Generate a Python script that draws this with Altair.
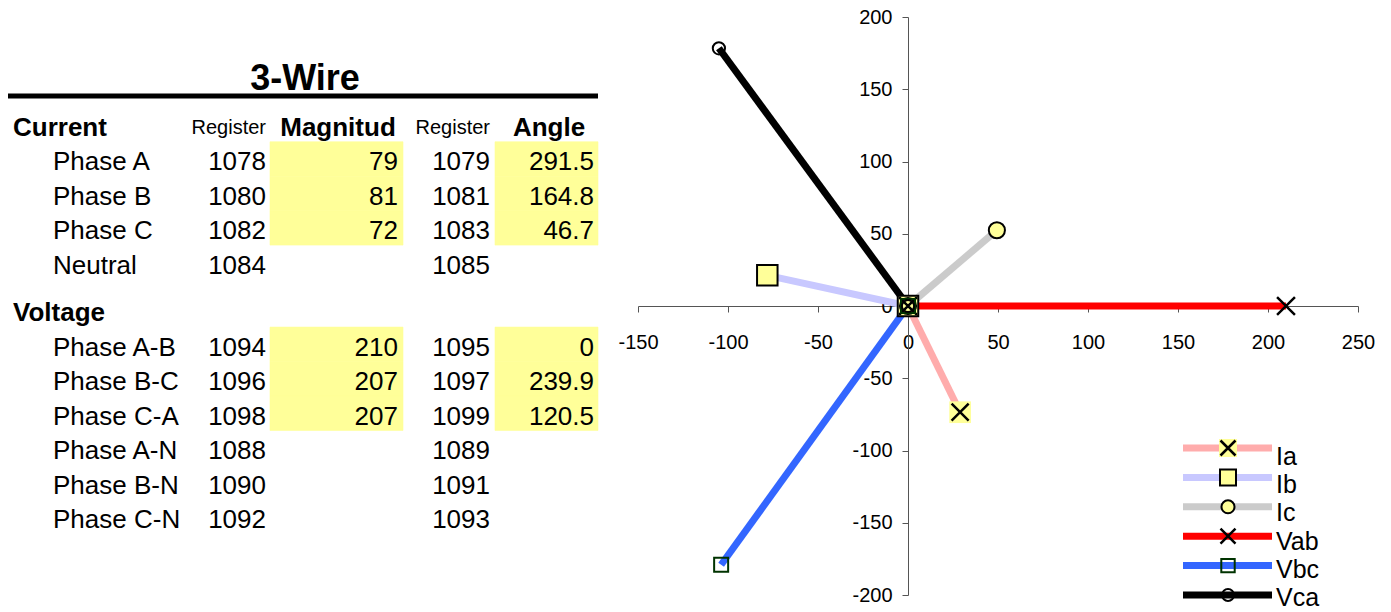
import altair as alt
import pandas as pd

FONT = "Liberation Sans, Arial, Helvetica, sans-serif"

# ---------------- table content ----------------
table_title = "3-Wire"
section_labels = ["Current", "Voltage"]
section_index = [0, 5]
row_labels = ["Phase A", "Phase B", "Phase C", "Neutral", "Phase A-B", "Phase B-C",
              "Phase C-A", "Phase A-N", "Phase B-N", "Phase C-N"]
row_index = [1, 2, 3, 4, 6, 7, 8, 9, 10, 11]
mag_registers = [1078, 1080, 1082, 1084, 1094, 1096, 1098, 1088, 1090, 1092]
angle_registers = [1079, 1081, 1083, 1085, 1095, 1097, 1099, 1089, 1091, 1093]
magnitudes = [79, 81, 72, None, 210, 207, 207, None, None, None]
angles = [291.5, 164.8, 46.7, None, 0, 239.9, 120.5, None, None, None]
column_headers = ["Register", "Magnitud", "Register", "Angle"]

# ---------------- phasor series ----------------
series_names = ["Ia", "Ib", "Ic", "Vab", "Vbc", "Vca"]
series_rows = ["Phase A", "Phase B", "Phase C", "Phase A-B", "Phase B-C", "Phase C-A"]
series_colors = ["#FFACAC", "#C8C8FF", "#CBCBCB", "#FF0000", "#3366FF", "#000000"]
series_widths = [7, 7, 7, 4.5, 4.5, 4.5]
x_ticks = [-150, -100, -50, 0, 50, 100, 150, 200, 250]
y_ticks = [-200, -150, -100, -50, 0, 50, 100, 150, 200]

XPATH = "M-1,-1L1,1M-1,1L1,-1"
# series, shape, plot size, legend size, fill, stroke, stroke width
marker_styles = [
    ("Ia", "square", 470, 324, "#FFFF99", "#FFFF99", 0),
    ("Ia", XPATH, 290, 225, "transparent", "black", 2.5),
    ("Ib", "square", 420, 256, "#FFFF99", "black", 2),
    ("Ic", "circle", 260, 170, "#FFFF99", "black", 2),
    ("Vab", XPATH, 320, 225, "transparent", "black", 2.5),
    ("Vbc", "square", 196, 180, "transparent", "#003300", 2),
    ("Vca", "circle", 150, 140, "transparent", "black", 2),
]

# ---------------- data frames ----------------
table_df = pd.DataFrame({
    "label": row_labels,
    "k": row_index,
    "reg1": [str(v) for v in mag_registers],
    "reg2": [str(v) for v in angle_registers],
    "magv": magnitudes,
    "magt": ["" if v is None else f"{v:g}" for v in magnitudes],
    "angt": ["" if v is None else f"{v:g}" for v in angles],
})
section_df = pd.DataFrame({"label": section_labels, "k": section_index})

rows = []
for name, rl in zip(series_names, series_rows):
    i = row_labels.index(rl)
    for t in (0, 1):
        rows.append({"series": name, "t": t, "mag": magnitudes[i], "ang": angles[i]})
phasor_df = pd.DataFrame(rows)
legend_df = pd.DataFrame({"series": series_names, "li": list(range(len(series_names)))})

# ---------------- scales ----------------
X_SCALE = alt.Scale(domain=[-150, 250], nice=False, zero=False)
Y_SCALE = alt.Scale(domain=[-200, 200], nice=False, zero=False)
ROW_SCALE = alt.Scale(domain=[0, 11.38], range=[111, 503], nice=False, zero=False)
LEG_SYM = alt.Scale(domain=[0, 5], range=[431, 578], nice=False, zero=False)
LEG_TXT = alt.Scale(domain=[0, 5], range=[440, 581], nice=False, zero=False)
COLOR = alt.Color("series:N", scale=alt.Scale(domain=series_names, range=series_colors), legend=None)
SW = alt.StrokeWidth("series:N", scale=alt.Scale(domain=series_names, range=series_widths), legend=None)

layers = []

# ---------------- table ----------------
tbase = alt.Chart(table_df).transform_calculate(
    pos="datum.k + (datum.k >= 5 ? 0.38 : 0)"
).transform_calculate(top="datum.pos - 0.6", bot="datum.pos + 0.4")

for x0, x1 in [(-368, -235), (-143, -40)]:
    layers.append(
        tbase.transform_filter("isValid(datum.magv)").mark_rect(
            color="#FFFF99", stroke="#FFFF99", strokeWidth=0.6
        ).encode(
            x=alt.value(x0), x2=alt.value(x1),
            y=alt.Y("top:Q", scale=ROW_SCALE, axis=None), y2="bot:Q",
        )
    )

layers.append(
    alt.Chart(pd.DataFrame({"t": [table_title]})).mark_text(
        font=FONT, fontSize=36, fontWeight="bold", align="center", baseline="middle", color="black"
    ).encode(text="t:N", x=alt.value(-333), y=alt.value(62))
)
layers.append(
    alt.Chart(pd.DataFrame({"a": [0]})).mark_rule(color="black", strokeWidth=5).encode(
        x=alt.value(-630), x2=alt.value(-40), y=alt.value(79)
    )
)
layers.append(
    alt.Chart(section_df).transform_calculate(
        pos="datum.k + (datum.k >= 5 ? 0.38 : 0)"
    ).mark_text(font=FONT, fontSize=26, fontWeight="bold", align="left", baseline="middle", color="black").encode(
        text="label:N", x=alt.value(-625), y=alt.Y("pos:Q", scale=ROW_SCALE, axis=None)
    )
)
header_style = [(-372, "right", 20, "normal"), (-300, "center", 26, "bold"),
                (-148, "right", 20, "normal"), (-89, "center", 26, "bold")]
for h, (hx, al, fs, fw) in zip(column_headers, header_style):
    layers.append(
        alt.Chart(pd.DataFrame({"h": [h], "k": [0]})).mark_text(
            font=FONT, fontSize=fs, fontWeight=fw, align=al, baseline="middle", color="black"
        ).encode(text="h:N", x=alt.value(hx), y=alt.Y("k:Q", scale=ROW_SCALE, axis=None))
    )
for field, cx, al in [("label", -585, "left"), ("reg1", -372, "right"), ("magt", -240, "right"),
                      ("reg2", -148, "right"), ("angt", -44, "right")]:
    layers.append(
        tbase.mark_text(font=FONT, fontSize=26, align=al, baseline="middle", color="black").encode(
            text=f"{field}:N", x=alt.value(cx), y=alt.Y("pos:Q", scale=ROW_SCALE, axis=None)
        )
    )

# ---------------- phasor plot ----------------
pbase = alt.Chart(phasor_df).transform_calculate(
    px="datum.t * datum.mag * cos(datum.ang * PI / 180)",
    py="datum.t * datum.mag * sin(datum.ang * PI / 180)",
)
X_ENC = alt.X("px:Q", scale=X_SCALE, title=None,
              axis=alt.Axis(values=x_ticks, offset=-289, labelPadding=20, labelFlush=False,
                            labelExpr="'' + datum.value"))
layers.append(
    pbase.mark_line(strokeCap="butt").encode(
        x=X_ENC,
        y=alt.Y("py:Q", scale=Y_SCALE, title=None,
                axis=alt.Axis(values=y_ticks, offset=-270, labelPadding=10, labelFlush=False,
                              labelExpr="'' + datum.value")),
        color=COLOR, strokeWidth=SW, detail="series:N", order="t:Q",
    )
)
for name, shape, size, lsize, fill, stroke, sw in marker_styles:
    layers.append(
        pbase.transform_filter(alt.datum.series == name).mark_point(
            shape=shape, size=size, fill=fill, stroke=stroke, strokeWidth=sw, opacity=1
        ).encode(
            x=X_ENC,
            y=alt.Y("py:Q", scale=Y_SCALE, axis=None),
        )
    )

# ---------------- legend ----------------
layers.append(
    alt.Chart(legend_df).mark_rule().encode(
        x=alt.value(545), x2=alt.value(634),
        y=alt.Y("li:Q", scale=LEG_SYM, axis=None), color=COLOR, strokeWidth=SW,
    )
)
lbase = alt.Chart(legend_df)
for name, shape, size, lsize, fill, stroke, sw in marker_styles:
    layers.append(
        lbase.transform_filter(alt.datum.series == name).mark_point(
            shape=shape, size=lsize, fill=fill, stroke=stroke, strokeWidth=sw, opacity=1
        ).encode(x=alt.value(590), y=alt.Y("li:Q", scale=LEG_SYM, axis=None))
    )
layers.append(
    lbase.mark_text(font=FONT, fontSize=25, align="left", baseline="middle", color="black").encode(
        text="series:N", x=alt.value(638), y=alt.Y("li:Q", scale=LEG_TXT, axis=None)
    )
)

chart = alt.layer(*layers).resolve_scale(y="independent").properties(
    width=720, height=578,
    padding={"left": 638, "top": 17, "right": 33, "bottom": 17},
    autosize=alt.AutoSizeParams(type="none"),
).configure_view(stroke=None).configure_axis(
    labelFont=FONT, labelFontSize=20, labelColor="black", domainColor="#555555",
    tickColor="#555555", tickSize=6, grid=False, domainWidth=1, tickWidth=1,
)

chart.save("out.html", embed_options={"renderer": "svg", "actions": False})
